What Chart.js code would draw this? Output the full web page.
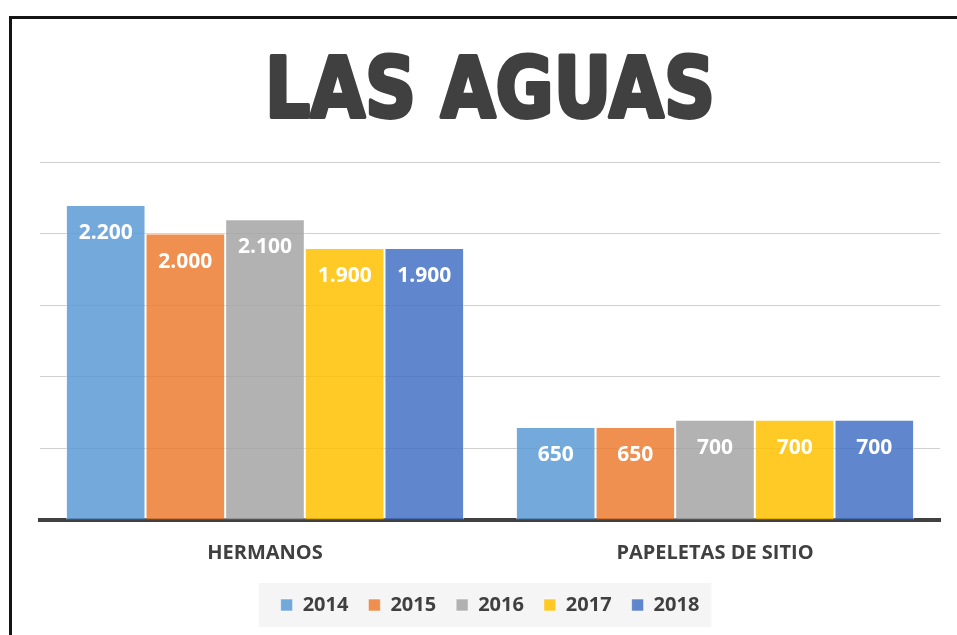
<!DOCTYPE html>
<html>
<head>
<meta charset="utf-8">
<script src="https://cdn.jsdelivr.net/npm/chart.js@4/dist/chart.umd.min.js"></script>
<style>
  html, body { margin: 0; padding: 0; background: #fff; overflow: hidden; }
  #wrap { position: relative; width: 957px; height: 635px; }
  #frame { position: absolute; left: 9px; top: 16px; width: 2000px; height: 2000px; border: 3px solid #151515; pointer-events: none; }
</style>
</head>
<body>
<div id="wrap">
  <canvas id="c" width="957" height="635"></canvas>
  <div id="frame"></div>
</div>
<script>
const chartTitle = 'LAS AGUAS';
const categories = ['HERMANOS', 'PAPELETAS DE SITIO'];
const seriesNames = ['2014', '2015', '2016', '2017', '2018'];
const values2014 = [2200, 650];
const values2015 = [2000, 650];
const values2016 = [2100, 700];
const values2017 = [1900, 700];
const values2018 = [1900, 700];
const yMax = 2500;
const yStep = 500;
const seriesColors = ['rgba(91,155,213,0.85)', 'rgba(237,125,49,0.85)', 'rgba(165,165,165,0.85)', 'rgba(255,192,0,0.85)', 'rgba(68,114,196,0.85)'];

const allValues = [values2014, values2015, values2016, values2017, values2018];

function fmt(v) {
  return String(v).replace(/\B(?=(\d{3})+(?!\d))/g, '.');
}

const titlePlugin = {
  id: 'bigTitle',
  afterDraw(chart) {
    const ctx = chart.ctx;
    const ca = chart.chartArea;
    ctx.save();
    ctx.font = 'bold 83px "DejaVu Sans"';
    const w = ctx.measureText(chartTitle).width;
    ctx.translate((ca.left + ca.right) / 2, 117);
    ctx.scale(450 / w, 1);
    ctx.fillStyle = '#404040';
    ctx.strokeStyle = '#404040';
    ctx.lineWidth = 4;
    ctx.lineJoin = 'round';
    ctx.textAlign = 'center';
    ctx.textBaseline = 'alphabetic';
    ctx.strokeText(chartTitle, 0, 0);
    ctx.fillText(chartTitle, 0, 0);
    ctx.restore();
  }
};

const legendBg = {
  id: 'legendBg',
  beforeDraw(chart) {
    const lg = chart.legend;
    if (!lg || !lg.legendHitBoxes || !lg.legendHitBoxes.length) return;
    const hb = lg.legendHitBoxes;
    const l = Math.min(...hb.map(h => h.left));
    const r = Math.max(...hb.map(h => h.left + h.width));
    const t = Math.min(...hb.map(h => h.top));
    const b = Math.max(...hb.map(h => h.top + h.height));
    const ctx = chart.ctx;
    ctx.save();
    ctx.fillStyle = '#F5F5F5';
    ctx.fillRect(l - 22, t - 12, (r - l) + 34, (b - t) + 24);
    ctx.restore();
  }
};

const labelPlugin = {
  id: 'barLabels',
  afterDatasetsDraw(chart) {
    const ctx = chart.ctx;
    ctx.save();
    ctx.font = 'bold 21px "Open Sans"';
    ctx.fillStyle = '#ffffff';
    ctx.textAlign = 'center';
    ctx.textBaseline = 'middle';
    chart.data.datasets.forEach((ds, i) => {
      chart.getDatasetMeta(i).data.forEach((bar, j) => {
        ctx.fillText(fmt(ds.data[j]), bar.x, bar.y + 28);
      });
    });
    ctx.restore();
  }
};

new Chart(document.getElementById('c'), {
  type: 'bar',
  data: {
    labels: categories,
    datasets: seriesNames.map((name, i) => ({
      label: name,
      data: allValues[i],
      backgroundColor: seriesColors[i],
      borderColor: 'rgba(255,255,255,0.55)',
      borderWidth: 1,
      barPercentage: 1.0,
      categoryPercentage: 0.885
    }))
  },
  options: {
    responsive: false,
    animation: false,
    events: [],
    layout: { padding: { top: 162, left: 40, right: 17, bottom: 10 } },
    plugins: {
      title: { display: false },
      tooltip: { enabled: false },
      legend: {
        position: 'bottom',
        labels: {
          boxWidth: 12,
          boxHeight: 12,
          padding: 20,
          color: '#404040',
          font: { family: '"Open Sans"', weight: 'bold', size: 20 }
        }
      }
    },
    scales: {
      x: {
        grid: { display: false, drawTicks: false },
        border: { display: true, color: '#404040', width: 4 },
        ticks: {
          color: '#404040',
          padding: 21,
          font: { family: '"Open Sans"', weight: 'bold', size: 20 }
        },
        afterFit(scale) { scale.height = 55; }
      },
      y: {
        min: 0,
        max: yMax,
        ticks: { display: false, stepSize: yStep },
        grid: { color: '#D0D0D0', lineWidth: 1, drawTicks: false },
        border: { display: false }
      }
    }
  },
  plugins: [titlePlugin, legendBg, labelPlugin]
});
</script>
</body>
</html>
